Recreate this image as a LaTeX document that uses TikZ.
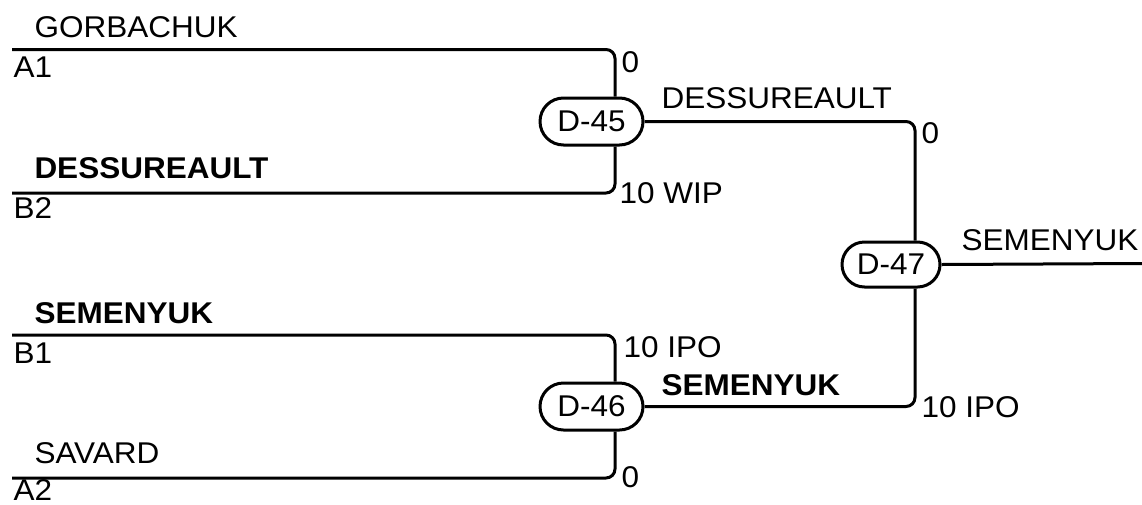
\documentclass[tikz,border=0pt]{standalone}
\usepackage{fontspec}
\setmainfont[FakeStretch=1.05]{Liberation Sans}
\usetikzlibrary{shapes.misc}
\begin{document}
\begin{tikzpicture}[x=1pt,y=-1pt,
  line width=3pt,
  lbl/.style={anchor=base west,inner sep=0pt,font=\fontsize{30}{36}\selectfont},
  blbl/.style={lbl,font=\fontsize{30}{36}\selectfont\bfseries},
  game/.style={draw,rounded rectangle,inner sep=0pt,minimum width=103pt,minimum height=47pt,font=\fontsize{30}{36}\selectfont},
  wire/.style={rounded corners=9pt}]
\useasboundingbox (0,0) rectangle (1142,504);
% games
\node[game] (D45) at (591.5,121.5) {D-45};
\node[game] (D46) at (591.5,406.5) {D-46};
\node[game,minimum width=98pt,minimum height=45pt] (D47) at (891,264.5) {D-47};
% anchors
\coordinate (A1) at (12,49.5);
\coordinate (B2) at (12,193);
\coordinate (B1) at (12,335);
\coordinate (A2) at (12,478);
\coordinate (v45) at (615,0);
\coordinate (v47) at (915,0);
\coordinate (out) at (1142,263.5);
% wires
\draw[wire] (A1) -- (A1 -| v45) -- (v45 |- D45.north);
\draw[wire] (B2) -- (B2 -| v45) -- (v45 |- D45.south);
\draw[wire] (B1) -- (B1 -| v45) -- (v45 |- D46.north);
\draw[wire] (A2) -- (A2 -| v45) -- (v45 |- D46.south);
\draw[wire] (D45.east) -- (D45.east -| v47) -- (v47 |- D47.north);
\draw[wire] (D46.east) -- (D46.east -| v47) -- (v47 |- D47.south);
\draw (D47.east) -- (out);
% labels
\node[lbl] (tGor) at (33,37) {GORBACHUK};
\node[lbl] (tA1) at (12,77) {A1};
\node[blbl] (tDes) at (33,178) {DESSUREAULT};
\node[lbl] (tB2) at (12,218) {B2};
\node[blbl] (tSem) at (33,323) {SEMENYUK};
\node[lbl] (tB1) at (12,363) {B1};
\node[lbl] (tSav) at (33,463) {SAVARD};
\node[lbl] (tA2) at (12,500.5) {A2};
\node[lbl] (s1) at (620,72) {0};
\node[lbl] (w45) at (660,108) {DESSUREAULT};
\node[lbl] (s2) at (618,203) {10 WIP};
\node[lbl] (s3) at (920,143) {0};
\node[lbl] (w47) at (960,250) {SEMENYUK};
\node[lbl] (s4) at (622,357) {10 IPO};
\node[blbl] (w46) at (660,395) {SEMENYUK};
\node[lbl] (s5) at (620,487) {0};
\node[lbl] (s6) at (920,417) {10 IPO};
\end{tikzpicture}
\end{document}
